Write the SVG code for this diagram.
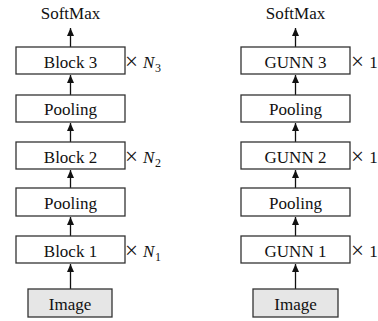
<svg xmlns="http://www.w3.org/2000/svg" width="378" height="321" viewBox="0 0 378 321">
<style>
.box{fill:#fff;stroke:#333;stroke-width:1.3}
.img{fill:#e6e6e6;stroke:#333;stroke-width:1.3}
.t{font-family:"Liberation Serif","Times New Roman",serif;font-size:17px;fill:#111;text-anchor:middle}
.m{font-family:"Liberation Serif","Times New Roman",serif;font-size:23px;fill:#111}
.n{font-family:"Liberation Serif","Times New Roman",serif;font-size:17px;font-style:italic;fill:#111}
.s{font-family:"Liberation Serif","Times New Roman",serif;font-size:12px;fill:#111}
.c{stroke:#111;stroke-width:1.3;fill:none;marker-end:url(#ah)}
</style>
<defs>
<marker id="ah" markerUnits="userSpaceOnUse" markerWidth="9" markerHeight="8" refX="8" refY="3.5" orient="auto">
<path d="M0,0 L8,3.5 L0,7 Z" fill="#111"/>
</marker>
</defs>
<g id="connectors">
<line class="c" x1="70.5" y1="289" x2="70.5" y2="264"/>
<line class="c" x1="70.5" y1="236" x2="70.5" y2="217"/>
<line class="c" x1="70.5" y1="188" x2="70.5" y2="170"/>
<line class="c" x1="70.5" y1="142" x2="70.5" y2="123"/>
<line class="c" x1="70.5" y1="95" x2="70.5" y2="75"/>
<line class="c" x1="70.5" y1="47" x2="70.5" y2="28"/>
<line class="c" x1="295.5" y1="289" x2="295.5" y2="264"/>
<line class="c" x1="295.5" y1="236" x2="295.5" y2="217"/>
<line class="c" x1="295.5" y1="188" x2="295.5" y2="170"/>
<line class="c" x1="295.5" y1="142" x2="295.5" y2="123"/>
<line class="c" x1="295.5" y1="95" x2="295.5" y2="75"/>
<line class="c" x1="295.5" y1="47" x2="295.5" y2="28"/>
</g>
<g id="softmax-left"><text class="t" x="70.5" y="19">SoftMax</text></g>
<g id="block3"><rect class="box" x="16" y="47" width="109" height="27"/><text class="t" x="70.5" y="68">Block 3</text>
<text class="m" x="125" y="69">×</text><text class="n" x="143" y="68">N</text><text class="s" x="155" y="72">3</text></g>
<g id="pool2-left"><rect class="box" x="16" y="95" width="109" height="27"/><text class="t" x="70.5" y="115">Pooling</text></g>
<g id="block2"><rect class="box" x="16" y="142" width="109" height="27"/><text class="t" x="70.5" y="163">Block 2</text>
<text class="m" x="125" y="164">×</text><text class="n" x="143" y="163">N</text><text class="s" x="155" y="167">2</text></g>
<g id="pool1-left"><rect class="box" x="16" y="188" width="109" height="28"/><text class="t" x="70.5" y="209">Pooling</text></g>
<g id="block1"><rect class="box" x="16" y="236" width="109" height="27"/><text class="t" x="70.5" y="257">Block 1</text>
<text class="m" x="125" y="258">×</text><text class="n" x="143" y="257">N</text><text class="s" x="155" y="261">1</text></g>
<g id="image-left"><rect class="img" x="28" y="289" width="84" height="28"/><text class="t" x="70" y="310">Image</text></g>
<g id="softmax-right"><text class="t" x="295.5" y="19">SoftMax</text></g>
<g id="gunn3"><rect class="box" x="241" y="47" width="109" height="27"/><text class="t" x="295.5" y="68">GUNN 3</text>
<text class="m" x="351" y="69">×</text><text class="t" x="373.5" y="68">1</text></g>
<g id="pool2-right"><rect class="box" x="241" y="95" width="109" height="27"/><text class="t" x="295.5" y="115">Pooling</text></g>
<g id="gunn2"><rect class="box" x="241" y="142" width="109" height="27"/><text class="t" x="295.5" y="163">GUNN 2</text>
<text class="m" x="351" y="164">×</text><text class="t" x="373.5" y="163">1</text></g>
<g id="pool1-right"><rect class="box" x="241" y="188" width="109" height="28"/><text class="t" x="295.5" y="209">Pooling</text></g>
<g id="gunn1"><rect class="box" x="241" y="236" width="109" height="27"/><text class="t" x="295.5" y="257">GUNN 1</text>
<text class="m" x="351" y="258">×</text><text class="t" x="373.5" y="257">1</text></g>
<g id="image-right"><rect class="img" x="253" y="289" width="85" height="28"/><text class="t" x="295.5" y="310">Image</text></g>
</svg>
